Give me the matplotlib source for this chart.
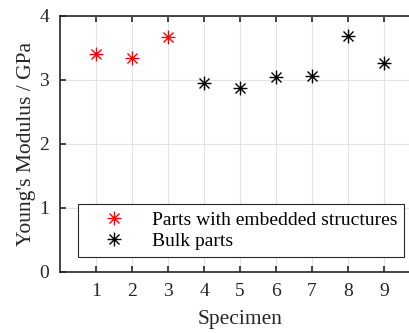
import matplotlib
matplotlib.use('Agg')
import matplotlib.pyplot as plt
import numpy as np
from matplotlib.path import Path

plt.rcParams['font.family'] = ['Liberation Serif', 'DejaVu Serif']

spec_emb = [1, 2, 3]
mod_emb = [3.40, 3.35, 3.67]
spec_bulk = [4, 5, 6, 7, 8, 9]
mod_bulk = [2.96, 2.87, 3.04, 3.06, 3.69, 3.27]
xticks = [1, 2, 3, 4, 5, 6, 7, 8, 9]
yticks = [0, 1, 2, 3, 4]

# asterisk like matlab: plus + x
d = 0.72
verts = [(-1, 0), (1, 0), (0, -1), (0, 1), (-d, -d), (d, d), (-d, d), (d, -d)]
codes = [Path.MOVETO, Path.LINETO] * 4
ast = Path(verts, codes)

fig = plt.figure(figsize=(4.09, 3.33), dpi=100)
ax = fig.add_axes([60/409, 1 - 272/333, 360/409, 256/333])

ax.plot(spec_emb, mod_emb, linestyle='none', marker=ast, markersize=10,
        color='red', markerfacecolor='none', mew=1.0, label='Parts with embedded structures')
ax.plot(spec_bulk, mod_bulk, linestyle='none', marker=ast, markersize=10,
        color='black', markerfacecolor='none', mew=1.0, label='Bulk parts')

ax.set_xlim(0, 10)
ax.set_ylim(0, 4)
ax.set_xticks(xticks)
ax.set_yticks(yticks)
ax.grid(True, color='#e3e3e3', linewidth=0.8)
ax.set_axisbelow(True)
ax.tick_params(direction='in', top=True, right=True, length=4, width=1.2, labelsize=14, pad=8, colors='#262626')
for s in ax.spines.values():
    s.set_color('#262626')
    s.set_linewidth(1.2)

ax.set_xlabel('Specimen', fontsize=15.5, color='#262626', labelpad=7)
ax.set_ylabel("Young's Modulus / GPa", fontsize=15.5, color='#262626', labelpad=2)

leg = ax.legend(loc='lower left', bbox_to_anchor=(18/360, 15/256), fontsize=14,
                frameon=True, fancybox=False, edgecolor='#262626', framealpha=1,
                borderpad=0.35, borderaxespad=0, handletextpad=0.45, handlelength=3.0,
                labelspacing=0.2)
leg.get_frame().set_linewidth(0.8)

fig.savefig('out.png', dpi=100)
